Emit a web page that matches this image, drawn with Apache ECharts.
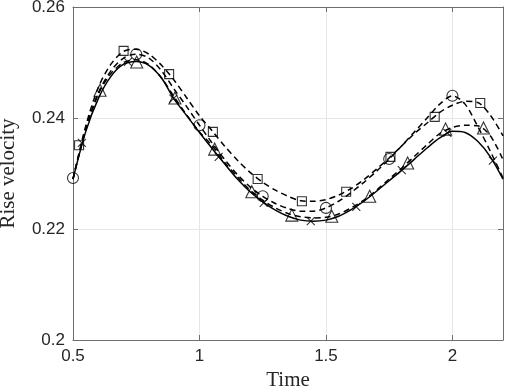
<!DOCTYPE html>
<html>
<head>
<meta charset="utf-8">
<script src="https://cdn.jsdelivr.net/npm/echarts@6/dist/echarts.min.js"></script>
<style>
  html, body { margin: 0; padding: 0; background: #fff; }
  #chart { width: 505px; height: 389px; }
</style>
</head>
<body>
<div id="chart"></div>
<script>
// time samples for the curves
const time = [0.50, 0.55, 0.60, 0.65, 0.70, 0.75, 0.80, 0.85, 0.90, 0.95,
  1.00, 1.05, 1.10, 1.15, 1.20, 1.25, 1.30, 1.35, 1.40, 1.45,
  1.50, 1.55, 1.60, 1.65, 1.70, 1.75, 1.80, 1.85, 1.90, 1.95,
  2.00, 2.05, 2.10, 2.15, 2.20];

// solid line (x markers)
const solidV = [0.2290, 0.2375, 0.2435, 0.2475, 0.2497, 0.2502, 0.2495, 0.2472, 0.2434, 0.2404,
  0.2374, 0.2345, 0.2317, 0.2290, 0.2267, 0.2249, 0.2234, 0.2223, 0.2216, 0.2214,
  0.2216, 0.2223, 0.2235, 0.2250, 0.2268, 0.2287, 0.2306, 0.2326, 0.2346, 0.2364,
  0.2376, 0.2374, 0.2358, 0.2330, 0.2290];
// dashed (circle markers)
const circleV = [0.2290, 0.2380, 0.2445, 0.2485, 0.2508, 0.2515, 0.2508, 0.2485, 0.2452, 0.2420,
  0.2387, 0.2355, 0.2325, 0.2298, 0.2276, 0.2259, 0.2246, 0.2237, 0.2232, 0.2232,
  0.2238, 0.2250, 0.2266, 0.2284, 0.2304, 0.2326, 0.2350, 0.2375, 0.2400, 0.2425,
  0.2440, 0.2425, 0.2385, 0.2340, 0.2292];
// dashed (square markers)
const squareV = [0.2290, 0.2385, 0.2455, 0.2497, 0.2520, 0.2524, 0.2515, 0.2495, 0.2468, 0.2436,
  0.2404, 0.2377, 0.2349, 0.2324, 0.2302, 0.2284, 0.2270, 0.2259, 0.2251, 0.2250,
  0.2253, 0.2261, 0.2273, 0.2289, 0.2308, 0.2328, 0.2350, 0.2372, 0.2391, 0.2410,
  0.2423, 0.2430, 0.2428, 0.2405, 0.2368];
// dashed (triangle markers)
const triV = [0.2290, 0.2378, 0.2443, 0.2480, 0.2500, 0.2505, 0.2496, 0.2472, 0.2438, 0.2405,
  0.2375, 0.2350, 0.2320, 0.2294, 0.2270, 0.2252, 0.2238, 0.2228, 0.2222, 0.2220,
  0.2221, 0.2227, 0.2238, 0.2252, 0.2270, 0.2290, 0.2310, 0.2331, 0.2352, 0.2372,
  0.2383, 0.2387, 0.2386, 0.2368, 0.2325];

// marker positions
const crossT = [0.535, 0.717, 0.897, 1.076, 1.254, 1.44, 1.62, 1.80, 1.98, 2.16];
const crossV = [0.2355, 0.2501, 0.2435, 0.2330, 0.2247, 0.2214, 0.2240, 0.2306, 0.2373, 0.2323];
const circleT = [0.5, 0.75, 1.0, 1.25, 1.5, 1.75, 2.0];
const circleM = [0.2292, 0.2515, 0.2387, 0.2259, 0.2238, 0.2326, 0.2440];
const squareT = [0.524, 0.70, 0.88, 1.053, 1.23, 1.405, 1.58, 1.755, 1.93, 2.11];
const squareM = [0.2351, 0.2521, 0.2479, 0.2375, 0.2290, 0.2250, 0.2267, 0.2330, 0.2402, 0.2427];
const triT = [0.607, 0.752, 0.903, 1.06, 1.207, 1.365, 1.523, 1.673, 1.823, 1.973, 2.123];
const triM = [0.2450, 0.2501, 0.2436, 0.2344, 0.2267, 0.2225, 0.2223, 0.2259, 0.2319, 0.2380, 0.2382];

const xTicks = [0.5, 1, 1.5, 2];
const yTicks = [0.2, 0.22, 0.24, 0.26];

const zip = (a, b) => a.map((v, i) => [v, b[i]]);

const axisColor = '#6e6e6e';
const labelFont = { color: '#262626', fontSize: 17, fontFamily: 'Liberation Sans, Arial, sans-serif' };
const nameFont = { color: '#262626', fontSize: 21, fontFamily: 'Liberation Serif, Times New Roman, serif' };

const lineSeries = (data, type) => ({
  type: 'line',
  data: data,
  smooth: 0.3,
  showSymbol: false,
  lineStyle: { color: '#000', width: 1.5, type: type },
  z: 2,
});
const markSeries = (data, symbol, size) => ({
  type: 'scatter',
  data: data,
  symbol: symbol,
  symbolSize: size,
  clip: false,
  itemStyle: { color: 'rgba(0,0,0,0)', borderColor: '#000', borderWidth: 1.1 },
  z: 3,
});

const chart = echarts.init(document.getElementById('chart'));
chart.setOption({
  animation: false,
  grid: { left: 73, right: 2, top: 7, bottom: 49, containLabel: false, outerBoundsMode: 'none' },
  xAxis: [{
    type: 'value',
    min: 0.5, max: 2.2, interval: 0.5,
    name: 'Time', nameLocation: 'middle', nameGap: 30,
    nameTextStyle: nameFont,
    axisLine: { show: true, lineStyle: { color: axisColor, width: 1 } },
    axisTick: { show: true, inside: true, length: 5, lineStyle: { color: axisColor } },
    axisLabel: Object.assign({ margin: 8, showMaxLabel: false,
      formatter: v => xTicks.includes(v) ? String(v) : '' }, labelFont),
    splitLine: { show: true, lineStyle: { color: '#e6e6e6', width: 1 } },
  }, {
    type: 'value', position: 'top',
    min: 0.5, max: 2.2, interval: 0.5,
    axisLine: { show: true, lineStyle: { color: axisColor, width: 1 } },
    axisTick: { show: true, inside: true, length: 5, lineStyle: { color: axisColor } },
    axisLabel: { show: false },
    splitLine: { show: false },
  }],
  yAxis: [{
    type: 'value',
    min: 0.2, max: 0.26, interval: 0.02,
    name: 'Rise velocity', nameLocation: 'middle', nameGap: 54,
    nameTextStyle: nameFont,
    axisLine: { show: true, lineStyle: { color: axisColor, width: 1 } },
    axisTick: { show: true, inside: true, length: 5, lineStyle: { color: axisColor } },
    axisLabel: Object.assign({ margin: 8,
      formatter: v => yTicks.some(t => Math.abs(t - v) < 1e-9) ? String(+v.toFixed(2)) : '' }, labelFont),
    splitLine: { show: true, lineStyle: { color: '#e6e6e6', width: 1 } },
  }, {
    type: 'value', position: 'right',
    min: 0.2, max: 0.26, interval: 0.02,
    axisLine: { show: true, lineStyle: { color: axisColor, width: 1 } },
    axisTick: { show: true, inside: true, length: 5, lineStyle: { color: axisColor } },
    axisLabel: { show: false },
    splitLine: { show: false },
  }],
  series: [
    lineSeries(zip(time, squareV), [6, 4]),
    lineSeries(zip(time, circleV), [6, 4]),
    lineSeries(zip(time, triV), [6, 4]),
    lineSeries(zip(time, solidV), 'solid'),
    markSeries(zip(squareT, squareM), 'rect', 9),
    markSeries(zip(circleT, circleM), 'circle', 11),
    markSeries(zip(triT, triM), 'triangle', 12),
    markSeries(zip(crossT, crossV), 'path://M0,0L10,10M10,0L0,10', 8),
  ],
});
</script>
</body>
</html>
